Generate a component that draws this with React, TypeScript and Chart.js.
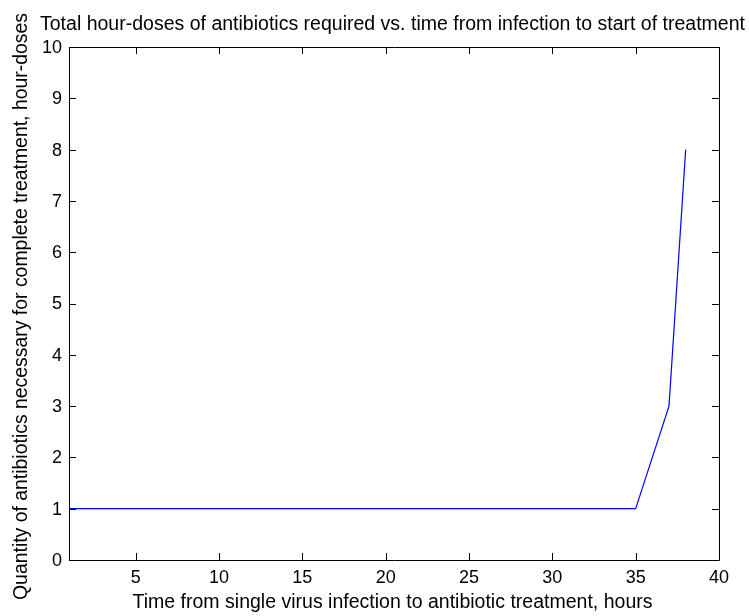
import React, { useEffect, useRef } from "react";
import { Chart, registerables } from "chart.js";

Chart.register(...registerables);

const hours = [1, 2, 3, 4, 5, 6, 7, 8, 9, 10, 11, 12, 13, 14, 15, 16, 17, 18, 19, 20, 21, 22, 23, 24, 25, 26, 27, 28, 29, 30, 31, 32, 33, 34, 35, 36, 37, 38];
const doses = [1, 1, 1, 1, 1, 1, 1, 1, 1, 1, 1, 1, 1, 1, 1, 1, 1, 1, 1, 1, 1, 1, 1, 1, 1, 1, 1, 1, 1, 1, 1, 1, 1, 1, 1, 2, 3, 8];
const xTicks = [5, 10, 15, 20, 25, 30, 35, 40];
const yTicks = [0, 1, 2, 3, 4, 5, 6, 7, 8, 9, 10];

const titleText = "Total hour-doses of antibiotics required vs. time from infection to start of treatment";
const xLabel = "Time from single virus infection to antibiotic treatment, hours";
const yLabel = "Quantity of antibiotics necessary for complete treatment, hour-doses";

const TICK_FONT = "18px 'Liberation Sans', Arial, sans-serif";
const LABEL_FONT = "20px 'Liberation Sans', Arial, sans-serif";

function drawFit(ctx: CanvasRenderingContext2D, text: string, x: number, y: number, w: number, rot: number) {
  ctx.save();
  ctx.font = LABEL_FONT;
  ctx.textAlign = "center";
  ctx.textBaseline = "alphabetic";
  const m = ctx.measureText(text).width;
  ctx.translate(x, y);
  ctx.rotate(rot);
  ctx.scale(w / m, 1);
  ctx.fillText(text, 0, 0);
  ctx.restore();
}

const matlabAxes = {
  id: "matlabAxes",
  afterDraw(chart: any) {
    const ctx: CanvasRenderingContext2D = chart.ctx;
    const { left, right, top, bottom } = chart.chartArea;
    const xs = chart.scales.x;
    const ys = chart.scales.y;
    ctx.save();
    ctx.strokeStyle = "#000";
    ctx.lineWidth = 1;
    ctx.fillStyle = "#000";
    ctx.beginPath();
    ctx.rect(Math.round(left) + 0.5, Math.round(top) + 0.5, Math.round(right - left), Math.round(bottom - top));
    ctx.stroke();
    const tl = 7;
    ctx.beginPath();
    xTicks.forEach((v) => {
      const px = Math.round(xs.getPixelForValue(v)) + 0.5;
      ctx.moveTo(px, bottom);
      ctx.lineTo(px, bottom - tl);
      ctx.moveTo(px, top);
      ctx.lineTo(px, top + tl);
    });
    yTicks.forEach((v) => {
      const py = Math.round(ys.getPixelForValue(v)) + 0.5;
      ctx.moveTo(left, py);
      ctx.lineTo(left + tl, py);
      ctx.moveTo(right, py);
      ctx.lineTo(right - tl, py);
    });
    ctx.stroke();
    ctx.font = TICK_FONT;
    ctx.textAlign = "center";
    ctx.textBaseline = "alphabetic";
    xTicks.forEach((v) => {
      ctx.fillText(String(v), xs.getPixelForValue(v), bottom + 23);
    });
    ctx.textAlign = "right";
    ctx.textBaseline = "middle";
    yTicks.forEach((v) => {
      ctx.fillText(String(v), left - 7, ys.getPixelForValue(v) + 1);
    });
    drawFit(ctx, titleText, 392.5, 30, 705, 0);
    drawFit(ctx, xLabel, 392.5, 608, 520, 0);
    drawFit(ctx, yLabel, 27, 306.5, 587, -Math.PI / 2);
    ctx.restore();
  },
};

export default function App() {
  const ref = useRef<HTMLCanvasElement | null>(null);
  useEffect(() => {
    if (!ref.current) return;
    const chart = new Chart(ref.current, {
      type: "line",
      data: {
        datasets: [
          {
            data: hours.map((h, i) => ({ x: h, y: doses[i] })),
            borderColor: "#0000ff",
            borderWidth: 1.2,
            pointRadius: 0,
            fill: false,
            tension: 0,
          },
        ],
      },
      options: {
        animation: false,
        responsive: false,
        layout: { padding: { left: 0, right: 30, top: 47, bottom: 0 } },
        plugins: { legend: { display: false }, tooltip: { enabled: false }, title: { display: false } },
        scales: {
          x: {
            type: "linear",
            min: 1,
            max: 40,
            grid: { display: false },
            border: { display: false },
            ticks: { display: false },
            afterBuildTicks: (s: any) => {
              s.ticks = xTicks.map((v) => ({ value: v }));
            },
            afterFit: (s: any) => {
              s.height = 56;
            },
          },
          y: {
            type: "linear",
            min: 0,
            max: 10,
            grid: { display: false },
            border: { display: false },
            ticks: { display: false },
            afterBuildTicks: (s: any) => {
              s.ticks = yTicks.map((v) => ({ value: v }));
            },
            afterFit: (s: any) => {
              s.width = 69;
            },
          },
        },
      },
      plugins: [matlabAxes],
    });
    return () => chart.destroy();
  }, []);
  return (
    <div style={{ position: "fixed", left: 0, top: 0, width: 749, height: 616, background: "#fff" }}>
      <canvas ref={ref} width={749} height={616} style={{ width: 749, height: 616, display: "block" }} />
    </div>
  );
}
